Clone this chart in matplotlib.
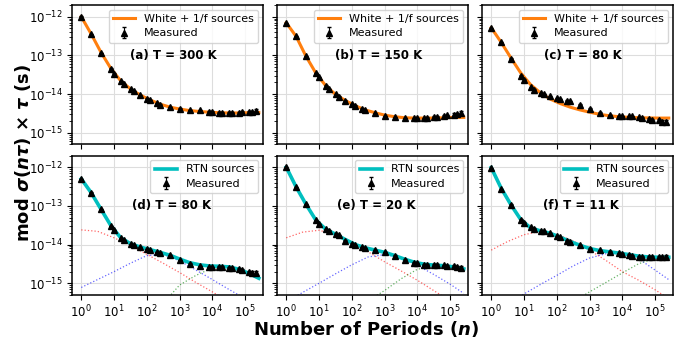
import numpy as np
import matplotlib.pyplot as plt
from matplotlib.ticker import NullLocator, NullFormatter

# measured points (number of periods) and relative error bars
n_meas = [1, 2, 4, 8, 10, 16, 20, 32, 40, 64, 100, 128, 200, 256, 512, 1000, 2048, 4096,
          8192, 10000, 16384, 20000, 32768, 40000, 65536, 80000, 131072, 160000, 220000]
rel_err = [0.02] * 20 + [0.03, 0.03, 0.04, 0.04, 0.05, 0.05, 0.07, 0.08, 0.12]

meas_a = [1.0e-12, 3.5e-13, 1.15e-13, 4.5e-14, 3.4e-14, 2.2e-14, 1.8e-14, 1.35e-14, 1.2e-14,
          9.3e-15, 7.6e-15, 7.1e-15, 5.8e-15, 5.3e-15, 4.6e-15, 4.2e-15, 3.9e-15, 3.8e-15,
          3.5e-15, 3.5e-15, 3.3e-15, 3.3e-15, 3.3e-15, 3.3e-15, 3.3e-15, 3.4e-15, 3.4e-15,
          3.4e-15, 3.6e-15]
meas_b = [6.8e-13, 3.1e-13, 9.4e-14, 3.5e-14, 2.7e-14, 1.65e-14, 1.35e-14, 9.8e-15, 8.5e-15,
          6.8e-15, 5.6e-15, 5.0e-15, 4.2e-15, 3.8e-15, 3.2e-15, 2.7e-15, 2.5e-15, 2.4e-15,
          2.35e-15, 2.35e-15, 2.4e-15, 2.45e-15, 2.6e-15, 2.6e-15, 2.75e-15, 2.8e-15, 2.95e-15,
          3.0e-15, 3.2e-15]
meas_c = [5.0e-13, 2.2e-13, 8.2e-14, 3.0e-14, 2.35e-14, 1.5e-14, 1.3e-14, 1.07e-14, 1.0e-14,
          8.7e-15, 7.7e-15, 7.5e-15, 6.8e-15, 6.5e-15, 5.3e-15, 4.2e-15, 3.3e-15, 2.9e-15,
          2.7e-15, 2.7e-15, 2.7e-15, 2.65e-15, 2.5e-15, 2.45e-15, 2.3e-15, 2.2e-15, 2.1e-15,
          1.95e-15, 1.9e-15]
meas_d = [5.0e-13, 2.2e-13, 8.1e-14, 3.0e-14, 2.4e-14, 1.44e-14, 1.3e-14, 1.02e-14, 9.6e-15,
          8.5e-15, 7.7e-15, 7.3e-15, 6.5e-15, 6.2e-15, 5.3e-15, 4.0e-15, 3.2e-15, 2.8e-15,
          2.65e-15, 2.65e-15, 2.65e-15, 2.65e-15, 2.55e-15, 2.5e-15, 2.3e-15, 2.2e-15, 2.0e-15,
          1.9e-15, 1.9e-15]
meas_e = [1.0e-12, 3.0e-13, 1.1e-13, 4.2e-14, 3.4e-14, 2.5e-14, 2.3e-14, 1.9e-14, 1.75e-14,
          1.27e-14, 1.06e-14, 9.8e-15, 8.5e-15, 8.1e-15, 7.3e-15, 6.4e-15, 5.2e-15, 4.1e-15,
          3.4e-15, 3.3e-15, 3.0e-15, 3.0e-15, 2.95e-15, 2.95e-15, 2.9e-15, 2.85e-15, 2.8e-15,
          2.6e-15, 2.55e-15]
meas_f = [9.4e-13, 2.7e-13, 1.07e-13, 4.4e-14, 3.7e-14, 2.8e-14, 2.6e-14, 2.2e-14, 2.2e-14,
          1.95e-14, 1.65e-14, 1.55e-14, 1.27e-14, 1.17e-14, 9.8e-15, 7.8e-15, 7.1e-15, 6.6e-15,
          6.0e-15, 5.8e-15, 5.4e-15, 5.2e-15, 4.9e-15, 4.9e-15, 4.8e-15, 4.75e-15, 4.75e-15,
          4.75e-15, 4.75e-15]

# fitted curves, sampled at n = 2^k
n_fit = 2.0 ** np.arange(19)
fit_a = [1.0e-12, 3.6e-13, 1.2e-13, 4.6e-14, 2.2e-14, 1.35e-14, 9.4e-15, 7.0e-15, 5.5e-15, 4.6e-15,
         4.1e-15, 3.75e-15, 3.55e-15, 3.4e-15, 3.3e-15, 3.25e-15, 3.25e-15, 3.3e-15, 3.35e-15]
fit_b = [7.0e-13, 3.1e-13, 9.5e-14, 3.5e-14, 1.65e-14, 9.8e-15, 6.8e-15, 5.0e-15, 3.9e-15, 3.3e-15,
         2.85e-15, 2.6e-15, 2.45e-15, 2.4e-15, 2.4e-15, 2.4e-15, 2.45e-15, 2.5e-15, 2.5e-15]
fit_c = [5.2e-13, 2.2e-13, 8.6e-14, 3.5e-14, 1.75e-14, 1.07e-14, 7.4e-15, 5.7e-15, 4.6e-15, 3.9e-15,
         3.4e-15, 3.0e-15, 2.75e-15, 2.6e-15, 2.5e-15, 2.45e-15, 2.42e-15, 2.4e-15, 2.4e-15]
fit_d = [5.0e-13, 2.2e-13, 8.2e-14, 3.1e-14, 1.5e-14, 1.05e-14, 8.6e-15, 7.4e-15, 6.3e-15, 5.3e-15,
         4.2e-15, 3.4e-15, 3.0e-15, 2.8e-15, 2.75e-15, 2.65e-15, 2.3e-15, 1.8e-15, 1.35e-15]
fit_e = [1.0e-12, 3.1e-13, 1.1e-13, 4.3e-14, 2.5e-14, 1.85e-14, 1.35e-14, 1.0e-14, 8.3e-15, 7.2e-15,
         6.3e-15, 5.2e-15, 4.2e-15, 3.5e-15, 3.1e-15, 2.95e-15, 2.85e-15, 2.65e-15, 2.35e-15]
fit_f = [9.8e-13, 2.9e-13, 1.07e-13, 4.4e-14, 2.7e-14, 2.25e-14, 1.95e-14, 1.55e-14, 1.2e-14, 9.6e-15,
         7.9e-15, 7.0e-15, 6.5e-15, 6.0e-15, 5.5e-15, 5.0e-15, 4.8e-15, 4.7e-15, 4.7e-15]

# individual RTN components (half-decade samples)
n_comp = [1, 3.16, 10, 31.6, 100, 316, 1000, 3162, 1e4, 3.16e4, 1e5, 2.6e5]
red_d = [2.4e-14, 2.2e-14, 1.5e-14, 9.5e-15, 5.6e-15, 3.3e-15, 1.9e-15, 1.05e-15, 6e-16, 3.3e-16, 1.9e-16, 1.2e-16]
blue_d = [7.8e-16, 1.25e-15, 2.0e-15, 3.3e-15, 5.2e-15, 5.6e-15, 3.8e-15, 2.2e-15, 1.25e-15, 7e-16, 4e-16, 2.6e-16]
green_d = [1e-17, 2e-17, 4e-17, 8e-17, 1.6e-16, 3.0e-16, 9.0e-16, 1.6e-15, 2.5e-15, 2.6e-15, 2.0e-15, 1.4e-15]
red_e = [1.5e-14, 2.1e-14, 2.35e-14, 1.8e-14, 1.1e-14, 6.5e-15, 3.6e-15, 2.1e-15, 1.2e-15, 6.5e-16, 3.5e-16, 2.2e-16]
blue_e = [3.3e-16, 5.8e-16, 1.0e-15, 1.75e-15, 3.0e-15, 4.8e-15, 5.5e-15, 4.5e-15, 2.9e-15, 1.7e-15, 9.5e-16, 5.5e-16]
green_e = [1e-17, 2e-17, 4e-17, 8e-17, 1.5e-16, 3.5e-16, 6.5e-16, 1.3e-15, 2.3e-15, 2.8e-15, 2.6e-15, 2.2e-15]
red_f = [7.2e-15, 1.2e-14, 1.8e-14, 2.2e-14, 1.85e-14, 1.25e-14, 7.2e-15, 3.9e-15, 2.0e-15, 1.2e-15, 6.8e-16, 4.0e-16]
blue_f = [1.6e-16, 2.9e-16, 5.3e-16, 9.3e-16, 1.6e-15, 2.8e-15, 4.5e-15, 5.8e-15, 6.0e-15, 4.3e-15, 2.2e-15, 1.25e-15]
green_f = [1e-17, 2e-17, 4e-17, 8e-17, 1.5e-16, 3.3e-16, 6e-16, 1.05e-15, 1.85e-15, 3.2e-15, 4.4e-15, 4.6e-15]

x_ticks = [1, 10, 100, 1e3, 1e4, 1e5]
y_ticks = [1e-15, 1e-14, 1e-13, 1e-12]

top_meas = [meas_a, meas_b, meas_c]
top_fit = [fit_a, fit_b, fit_c]
top_titles = ['(a) T = 300 K', '(b) T = 150 K', '(c) T = 80 K']
bot_meas = [meas_d, meas_e, meas_f]
bot_fit = [fit_d, fit_e, fit_f]
bot_comp = [(red_d, blue_d, green_d), (red_e, blue_e, green_e), (red_f, blue_f, green_f)]
bot_titles = ['(d) T = 80 K', '(e) T = 20 K', '(f) T = 11 K']

fig, axes = plt.subplots(2, 3, figsize=(6.88, 3.39), dpi=100, sharex=True, sharey=True)
fig.subplots_adjust(left=0.105, right=0.978, top=0.985, bottom=0.13, wspace=0.075, hspace=0.08)

def draw_meas(ax, vals):
    vals = np.array(vals)
    ax.errorbar(n_meas, vals, yerr=vals * np.array(rel_err), fmt='^', color='black',
                ms=4, capsize=1.2, elinewidth=0.8, label='Measured', zorder=4)

for i in range(3):
    ax = axes[0, i]
    ax.plot(n_fit, top_fit[i], color='tab:orange', lw=2.2, label='White + 1/f sources', zorder=3)
    draw_meas(ax, top_meas[i])
    ax.text(0.53, 0.64, top_titles[i], transform=ax.transAxes, ha='center', va='center',
            fontsize=8.5, fontweight='bold')

    ax = axes[1, i]
    red, blue, green = bot_comp[i]
    ax.plot(n_comp, red, ':', color='red', lw=0.9, alpha=0.6)
    ax.plot(n_comp, blue, ':', color='blue', lw=0.9, alpha=0.6)
    ax.plot(n_comp, green, ':', color='green', lw=0.9, alpha=0.6)
    ax.plot(n_fit, bot_fit[i], color='c', lw=2.6, label='RTN sources', zorder=3)
    draw_meas(ax, bot_meas[i])
    ax.text(0.52, 0.64, bot_titles[i], transform=ax.transAxes, ha='center', va='center',
            fontsize=8.5, fontweight='bold')

for ax in axes.flat:
    ax.set_xscale('log')
    ax.set_yscale('log')
    ax.set_xlim(0.53, 3.5e5)
    ax.set_ylim(5e-16, 2e-12)
    ax.set_xticks(x_ticks)
    ax.set_yticks(y_ticks)
    ax.xaxis.set_minor_locator(NullLocator())
    ax.yaxis.set_minor_formatter(NullFormatter())
    ax.grid(True, which='major', color='#dddddd', lw=0.8)
    ax.set_axisbelow(True)
    ax.tick_params(labelsize=8.5)
    ax.tick_params(axis='x', pad=2.5)
    for s in ax.spines.values():
        s.set_linewidth(1.1)
    ax.legend(loc='upper right', fontsize=8, handlelength=2, borderpad=0.4,
              labelspacing=0.4, handletextpad=0.8, borderaxespad=0.4)

fig.text(0.034, 0.55, r'mod $\boldsymbol{\sigma(n\tau)}$ $\boldsymbol{\times}$ $\boldsymbol{\tau}$ (s)',
         rotation=90, ha='center', va='center', fontsize=13, fontweight='bold')
fig.text(0.532, 0.03, r'Number of Periods ($\boldsymbol{n}$)', ha='center', va='center',
         fontsize=13, fontweight='bold')

fig.savefig('out.png', dpi=100)
